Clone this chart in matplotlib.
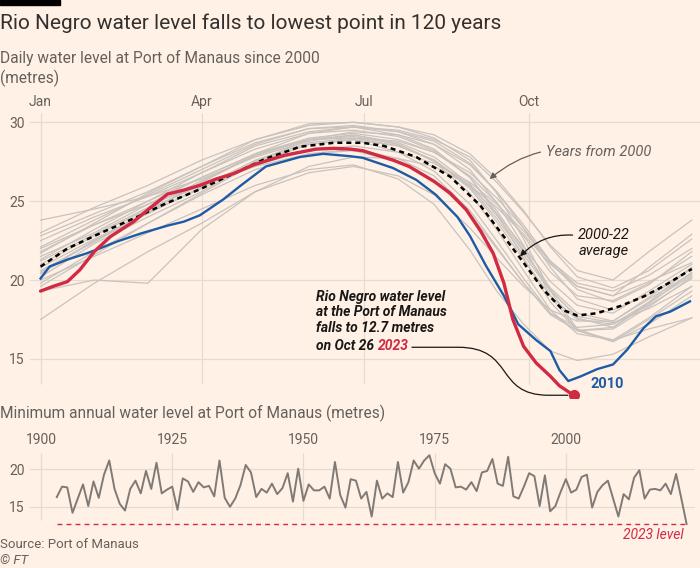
import matplotlib.pyplot as plt
from matplotlib.path import Path
from matplotlib.patches import PathPatch, Rectangle

plt.rcParams['font.family'] = ['Roboto', 'DejaVu Sans']

BG = '#fff1e5'
GRID = '#e7dbd0'
TXT = '#33302e'
MUTED = '#66605c'
RED = '#d12a43'
BLUE = '#1d5ba6'
LIGHT = '#c9c3bf'

# ---- daily levels (day of year -> metres) ----
month_days = [0, 90, 181, 273]
month_labels = ['Jan', 'Apr', 'Jul', 'Oct']

red_days = [0, 7, 15, 22, 30, 39, 52, 61, 71, 80, 89, 98, 108, 119, 136, 154, 164, 173, 180,
            197, 206, 220, 229, 238, 246, 253, 259, 264, 270, 277, 285, 290, 298]
red_vals = [19.3, 19.6, 19.9, 20.65, 21.8, 22.75, 23.7, 24.55, 25.45, 25.7, 26.0, 26.4, 26.75,
            27.3, 27.9, 28.3, 28.35, 28.3, 28.2, 27.6, 27.2, 26.25, 25.5, 24.45, 23.1, 21.7,
            19.8, 17.5, 15.8, 14.75, 13.9, 13.3, 12.7]

blue_days = [0, 5, 15, 26, 33, 43, 56, 71, 80, 89, 102, 112, 126, 145, 158, 173, 180, 197, 210,
             221, 233, 240, 249, 259, 267, 277, 285, 290, 295, 302, 311, 320, 328, 337, 344,
             352, 363]
blue_vals = [20.1, 20.85, 21.3, 21.7, 22.0, 22.45, 22.95, 23.45, 23.7, 24.1, 25.1, 26.0, 27.2,
             27.8, 28.0, 27.85, 27.75, 27.1, 26.35, 25.4, 24.0, 22.8, 20.9, 19.0, 17.2, 16.2,
             15.5, 14.3, 13.6, 13.9, 14.35, 14.65, 15.6, 16.95, 17.7, 18.0, 18.65]

avg_days = [0, 15, 33, 52, 70, 89, 108, 126, 145, 164, 180, 192, 210, 229, 246, 259, 270, 281,
            292, 300, 311, 324, 337, 348, 364]
avg_vals = [20.85, 22.0, 22.95, 23.9, 24.85, 25.75, 26.75, 27.7, 28.45, 28.7, 28.7, 28.5, 27.8,
            26.55, 24.7, 22.75, 21.1, 19.4, 18.1, 17.75, 17.9, 18.35, 18.95, 19.6, 20.7]

grey_days = [0, 30, 60, 90, 120, 150, 175, 200, 220, 240, 255, 270, 285, 300, 320, 340, 364]
y2000 = [21.5, 23.0, 24.8, 26.5, 28.0, 29.0, 29.3, 28.9, 28.1, 26.6, 24.9, 22.8, 20.5, 19.0, 18.7, 19.8, 21.5]
y2001 = [22.0, 23.5, 24.8, 26.0, 27.2, 28.0, 28.2, 27.5, 26.3, 24.2, 22.0, 19.8, 17.9, 17.0, 17.2, 18.6, 20.3]
y2002 = [20.5, 22.5, 24.3, 25.8, 27.5, 28.6, 28.9, 28.5, 27.6, 25.9, 23.9, 21.6, 19.3, 17.7, 17.3, 18.2, 19.6]
y2003 = [19.3, 20.0, 19.8, 23.2, 25.6, 27.2, 27.8, 27.7, 27.2, 26.0, 24.6, 22.9, 21.0, 19.6, 19.0, 19.9, 21.1]
y2004 = [21.0, 22.8, 24.5, 26.0, 27.3, 28.2, 28.5, 28.1, 27.4, 26.2, 24.8, 23.1, 21.2, 19.8, 19.3, 20.3, 22.0]
y2005 = [20.0, 21.5, 23.0, 24.5, 26.0, 27.0, 27.3, 26.4, 24.8, 21.9, 19.3, 17.2, 15.5, 14.9, 15.3, 16.4, 17.6]
y2006 = [22.5, 24.0, 25.3, 26.8, 28.3, 29.3, 29.5, 29.1, 28.2, 26.5, 24.4, 21.9, 19.4, 17.6, 17.0, 18.5, 20.5]
y2007 = [21.8, 23.5, 25.0, 26.5, 28.0, 28.9, 29.0, 28.5, 27.6, 26.0, 24.2, 22.1, 19.9, 18.4, 17.9, 19.3, 21.0]
y2008 = [20.8, 22.6, 24.2, 25.9, 27.6, 28.7, 29.0, 28.8, 28.1, 26.8, 25.2, 23.3, 21.1, 19.4, 18.6, 19.7, 21.8]
y2009 = [22.8, 24.2, 25.6, 27.2, 28.7, 29.6, 29.8, 29.4, 28.6, 27.0, 24.9, 22.2, 19.0, 16.8, 16.1, 17.5, 19.3]
y2011 = [19.8, 21.8, 23.6, 25.4, 27.0, 28.0, 28.3, 27.7, 26.6, 24.4, 22.1, 19.8, 17.8, 16.8, 16.9, 18.3, 20.2]
y2012 = [23.0, 24.6, 26.0, 27.6, 28.9, 29.8, 30.0, 29.7, 29.0, 27.6, 25.5, 22.6, 19.3, 16.9, 16.1, 17.2, 19.0]
y2013 = [20.2, 22.3, 24.0, 25.6, 27.5, 28.9, 29.4, 29.2, 28.6, 27.3, 25.6, 23.5, 21.2, 19.6, 19.0, 20.8, 22.9]
y2014 = [21.3, 23.2, 25.0, 26.8, 28.5, 29.4, 29.7, 29.5, 28.9, 27.8, 26.2, 24.3, 22.2, 20.6, 20.0, 21.8, 23.8]
y2015 = [23.8, 24.5, 25.3, 26.4, 27.8, 28.8, 29.2, 28.6, 27.5, 25.5, 23.2, 20.6, 18.1, 16.6, 16.2, 16.9, 17.6]
y2016 = [17.5, 19.8, 21.8, 23.6, 25.6, 26.8, 27.2, 26.6, 25.4, 23.3, 21.4, 19.6, 18.1, 17.4, 17.4, 18.8, 20.4]
y2017 = [20.4, 22.5, 24.4, 26.2, 27.9, 28.9, 29.2, 28.7, 27.8, 26.1, 24.1, 21.8, 19.5, 17.9, 17.4, 18.9, 20.8]
y2018 = [21.2, 22.9, 24.6, 26.3, 27.9, 28.9, 29.1, 28.6, 27.6, 25.8, 23.7, 21.3, 19.0, 17.5, 17.2, 18.4, 20.1]
y2019 = [20.6, 22.4, 24.3, 26.2, 28.0, 29.3, 29.7, 29.4, 28.8, 27.4, 25.6, 23.3, 20.8, 18.8, 18.1, 19.1, 20.7]
y2020 = [19.6, 21.6, 23.6, 25.5, 27.4, 28.6, 28.9, 28.1, 26.9, 24.8, 22.5, 20.1, 17.9, 16.8, 17.0, 18.6, 20.8]
y2021 = [21.7, 23.6, 25.5, 27.2, 28.9, 29.9, 30.0, 29.7, 29.2, 28.0, 26.4, 24.4, 22.1, 20.2, 19.5, 20.6, 22.6]
y2022 = [22.1, 23.8, 25.4, 27.0, 28.6, 29.6, 29.7, 29.2, 28.3, 26.5, 24.2, 21.4, 18.6, 16.8, 16.2, 17.6, 19.6]
grey_series = [y2000, y2001, y2002, y2003, y2004, y2005, y2006, y2007, y2008, y2009, y2011,
               y2012, y2013, y2014, y2015, y2016, y2017, y2018, y2019, y2020, y2021, y2022]

# ---- annual minimum levels ----
min_years = list(range(1903, 2024))
min_vals = [16.3, 17.7, 17.6, 14.2, 16.1, 18.0, 15.1, 18.4, 16.2, 19.3, 21.2, 17.4, 15.4, 14.5,
            17.4, 18.5, 16.8, 19.8, 17.4, 20.9, 16.8, 17.3, 17.7, 14.6, 18.8, 18.4, 17.0, 18.3,
            17.6, 17.8, 16.4, 21.2, 16.2, 15.0, 16.1, 17.9, 20.6, 19.6, 16.3, 17.4, 16.9, 18.1,
            16.7, 17.5, 19.5, 15.7, 20.1, 15.8, 18.0, 17.2, 17.2, 17.7, 16.1, 21.0, 16.6, 14.9,
            18.7, 18.5, 16.1, 17.0, 13.7, 18.5, 16.1, 16.8, 16.3, 21.0, 16.9, 18.3, 21.2, 20.1,
            21.2, 21.9, 19.5, 18.1, 20.7, 20.1, 17.6, 17.7, 17.3, 18.3, 17.1, 19.6, 19.8, 21.4,
            18.1, 17.8, 21.7, 16.4, 16.1, 17.7, 19.5, 19.1, 15.1, 19.2, 14.4, 15.1, 17.0, 18.7,
            16.9, 17.3, 19.0, 19.3, 14.9, 17.0, 17.9, 18.5, 16.1, 13.7, 16.7, 16.0, 18.9, 19.9,
            16.1, 17.3, 17.4, 17.2, 18.1, 16.7, 19.4, 16.1, 12.7]
year_ticks = [1900, 1925, 1950, 1975, 2000]
level_2023 = 12.7

fig = plt.figure(figsize=(7, 5.68), dpi=100, facecolor=BG)


def fx(px):
    return px / 700


def fy(py):
    return 1 - py / 568


fig.patches.append(Rectangle((0, fy(5)), fx(60), 5 / 568, transform=fig.transFigure,
                             color='#000000', zorder=5))
fig.text(0, fy(29), 'Rio Negro water level falls to lowest point in 120 years',
         fontsize=15, color=TXT, va='baseline')
fig.text(0, fy(58), 'Daily water level at Port of Manaus since 2000', fontsize=11.2,
         color=MUTED, va='center')
fig.text(0, fy(78), '(metres)', fontsize=11.2, color=MUTED, va='center')

# ---- top chart ----
ax = fig.add_axes([fx(30), fy(398.4), fx(670), (398.4 - 112.8) / 568])
ax.set_facecolor(BG)
ax.set_xlim(-5.9, 368.6)
ax.set_ylim(12.5, 30.6)
for s in ax.spines.values():
    s.set_visible(False)
for v in [15, 20, 25, 30]:
    ax.axhline(v, color=GRID, lw=0.9, zorder=0)
ax.vlines(month_days, 13.4, 30.6, color=GRID, lw=0.9, zorder=0)
ax.set_yticks([15, 20, 25, 30])
ax.set_xticks(month_days)
ax.set_xticklabels(month_labels)
ax.xaxis.tick_top()
ax.tick_params(length=0, labelsize=10, labelcolor=MUTED)
ax.tick_params(axis='x', pad=3)
ax.tick_params(axis='y', pad=4)

for vals in grey_series:
    ax.plot(grey_days, vals, color=LIGHT, lw=0.9, zorder=1)
ax.plot(avg_days, avg_vals, color='#000000', lw=1.8, ls=(0, (2, 1.6)), zorder=3)
ax.plot(blue_days, blue_vals, color=BLUE, lw=1.7, zorder=4)
ax.plot(red_days, red_vals, color=RED, lw=2.4, zorder=5, solid_capstyle='round')
ax.plot(red_days[-1], red_vals[-1], 'o', color=RED, ms=7, zorder=6)

ax.text(blue_days[-1] - 46, 13.4, '2010', color=BLUE, fontsize=10.5, fontweight='bold',
        va='center', ha='center')

note_kw = dict(fontsize=10, fontstyle='italic', fontweight='semibold', color='#1a1817')
ax.text(154, 19.4, 'Rio Negro water level\nat the Port of Manaus\nfalls to 12.7 metres',
        va='top', ha='left', linespacing=1.15, **note_kw)
last = ax.text(154, 15.55, 'on Oct 26 ', va='baseline', ha='left', **note_kw)
red_lbl = ax.annotate('2023', xy=(1, 0), xycoords=last, xytext=(0, 0),
                      textcoords='offset points', va='bottom', ha='left',
                      fontsize=10, fontstyle='italic', fontweight='semibold', color=RED)

# connector from the "2023" label to the final 2023 reading
fig.canvas.draw()
bb = red_lbl.get_window_extent()
x0, y0 = ax.transData.inverted().transform((bb.x1 + 3, (bb.y0 + bb.y1) / 2 - 1))
x3, y3 = red_days[-1] - 3, red_vals[-1]
curve = Path([(x0, y0), (x0 + 26, y0), (x0 + 58, y0), (x0 + 46, y3), (x3 - 11, y3), (x3, y3)],
             [Path.MOVETO, Path.LINETO, Path.CURVE4, Path.CURVE4, Path.CURVE4, Path.LINETO])
ax.add_patch(PathPatch(curve, fill=False, color='#1a1817', lw=0.9, zorder=2))

ax.annotate('Years from 2000', xy=(251, 26.4), xytext=(282.5, 28.1), va='center', ha='left',
            fontsize=10.5, fontstyle='italic', color=MUTED,
            arrowprops=dict(arrowstyle='-|>', color=MUTED, lw=0.9, mutation_scale=9,
                            shrinkA=2, shrinkB=0, connectionstyle='arc3,rad=0.25'))
ax.annotate('2000-22\naverage', xy=(268, 21.5), xytext=(300.5, 22.35), va='center', ha='left',
            fontsize=10.5, fontstyle='italic', color='#1a1817', linespacing=1.15,
            arrowprops=dict(arrowstyle='-|>', color='#1a1817', lw=0.9, mutation_scale=9,
                            shrinkA=2, shrinkB=0, relpos=(0, 0.75),
                            connectionstyle='arc3,rad=0.25'))

# ---- bottom chart ----
fig.text(0, fy(413), 'Minimum annual water level at Port of Manaus (metres)', fontsize=11.2,
         color=MUTED, va='center')
bx = fig.add_axes([fx(30), fy(527), fx(665), 74 / 568])
bx.set_facecolor(BG)
bx.set_xlim(1897.9, 2024.6)
bx.set_ylim(12.3, 22.2)
for s in bx.spines.values():
    s.set_visible(False)
for v in [15, 20]:
    bx.axhline(v, color=GRID, lw=0.9, zorder=0)
bx.vlines(year_ticks, 13.3, 22.2, color=GRID, lw=0.9, zorder=0)
bx.set_yticks([15, 20])
bx.set_xticks(year_ticks)
bx.xaxis.tick_top()
bx.tick_params(length=0, labelsize=10, labelcolor=MUTED)
bx.tick_params(axis='x', pad=4)
bx.tick_params(axis='y', pad=4)
bx.plot(min_years, min_vals, color='#807a77', lw=1.4, zorder=2)
bx.hlines(level_2023, min_years[0], min_years[-1], color=RED, lw=1, ls=(0, (3.5, 3)), zorder=1)
bx.text(min_years[-1] - 0.5, level_2023 - 0.6, '2023 level', color=RED, fontsize=10,
        fontstyle='italic', ha='right', va='top')

fig.text(0, fy(545), 'Source: Port of Manaus', fontsize=9.5, color=MUTED, va='center')
fig.text(0, fy(561), '© FT', fontsize=9.5, color=MUTED, va='center', fontstyle='italic')

fig.savefig('out.png', dpi=100, facecolor=BG)
